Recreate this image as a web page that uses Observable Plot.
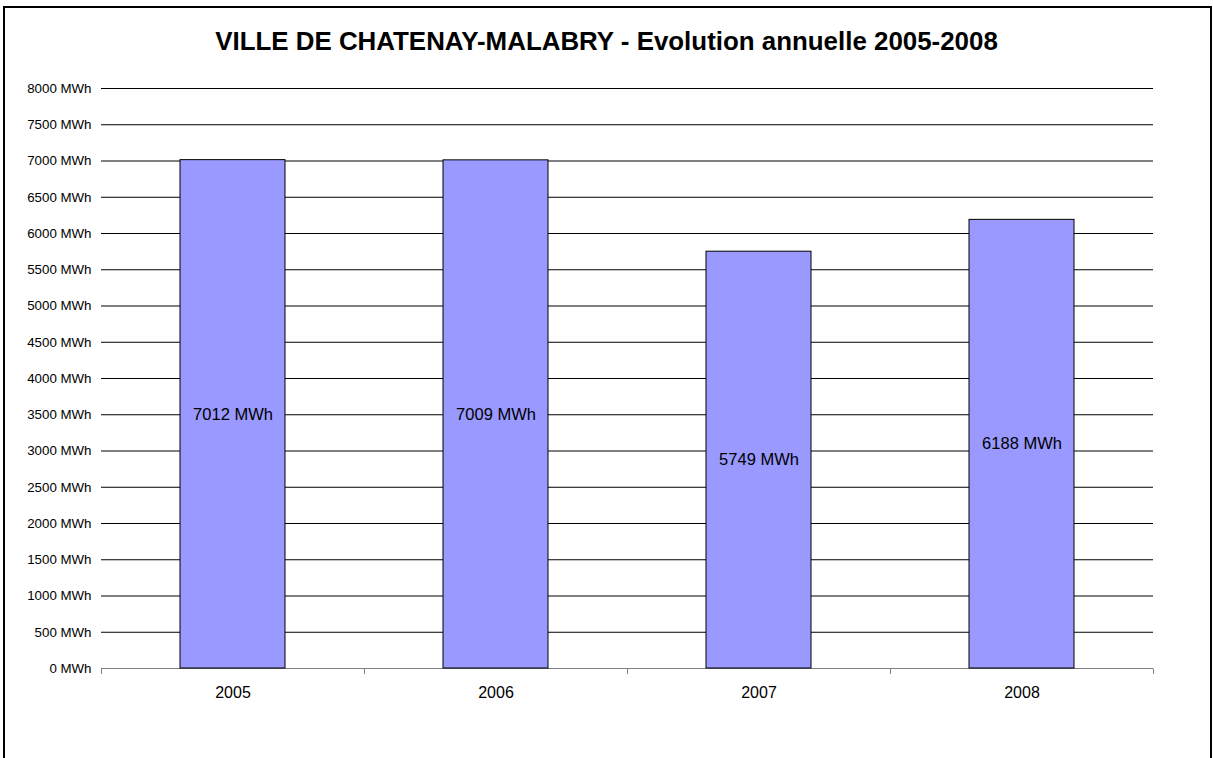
<!DOCTYPE html>
<html>
<head>
<meta charset="utf-8">
<script src="https://cdn.jsdelivr.net/npm/d3@7"></script>
<script src="https://cdn.jsdelivr.net/npm/@observablehq/plot@0.6"></script>
<style>
  html, body { margin: 0; padding: 0; background: #fff; }
  #wrap { position: relative; width: 1213px; height: 758px; overflow: hidden; background: #fff;
          font-family: "Liberation Sans", Arial, sans-serif; }
  #title { height: 70px; box-sizing: border-box; padding-top: 26px; line-height: 30px;
           font-size: 25.9px; font-weight: bold; text-align: center; color: #000; }
  #border { position: absolute; left: 3px; top: 6px; width: 1205px; height: 800px;
            border: 2px solid #000; pointer-events: none; }
  #chart svg { display: block; }
</style>
</head>
<body>
<div id="wrap">
  <div id="title">VILLE DE CHATENAY-MALABRY - Evolution annuelle 2005-2008</div>
  <div id="chart"></div>
  <div id="border"></div>
</div>
<script>
const years = ["2005", "2006", "2007", "2008"];
const consumption = [7012, 7009, 5749, 6188];
const yTicks = [0, 500, 1000, 1500, 2000, 2500, 3000, 3500, 4000, 4500, 5000, 5500, 6000, 6500, 7000, 7500, 8000];
const unit = "MWh";

const data = years.map((year, i) => ({year, value: consumption[i]}));

const chart = Plot.plot({
  width: 1213,
  height: 688,
  marginTop: 18,
  marginBottom: 90,
  marginLeft: 101,
  marginRight: 60,
  style: {fontFamily: "'Liberation Sans', Arial, sans-serif", color: "#000", background: "transparent"},
  x: {domain: years, paddingInner: 0.6, paddingOuter: 0.3},
  y: {domain: [0, 8000]},
  marks: [
    Plot.ruleY(yTicks.filter(d => d > 0), {stroke: "#000", strokeWidth: 1}),
    Plot.ruleY([0], {stroke: "#808080", strokeWidth: 1}),
    Plot.barY(data, {x: "year", y: "value", fill: "#9999ff", stroke: "#000", strokeWidth: 1}),
    Plot.text(data, {x: "year", y: d => d.value / 2, text: d => `${d.value} ${unit}`, fontSize: 16.5, fill: "#000"}),
    Plot.axisY({ticks: yTicks, tickSize: 0, tickPadding: 10, tickFormat: d => `${d} ${unit}`, fontSize: 13.3, label: null}),
    Plot.axisX({tickSize: 0, tickPadding: 18, fontSize: 16, label: null})
  ]
});
document.getElementById("chart").appendChild(chart);

// Category boundary ticks below the baseline, from Plot's own scales
const xs = chart.scale("x");
const ys = chart.scale("y");
const half = xs.step * xs.paddingInner / 2;
const edges = years.map(d => xs.apply(d) - half);
edges.push(xs.apply(years[years.length - 1]) + xs.bandwidth + half);
const y0 = ys.apply(0);
d3.select(chart).append("g")
  .selectAll("line").data(edges).join("line")
  .attr("x1", d => Math.round(d) + 0.5).attr("x2", d => Math.round(d) + 0.5)
  .attr("y1", y0 + 0.5).attr("y2", y0 + 6)
  .attr("stroke", "#808080").attr("stroke-width", 1);
</script>
</body>
</html>
